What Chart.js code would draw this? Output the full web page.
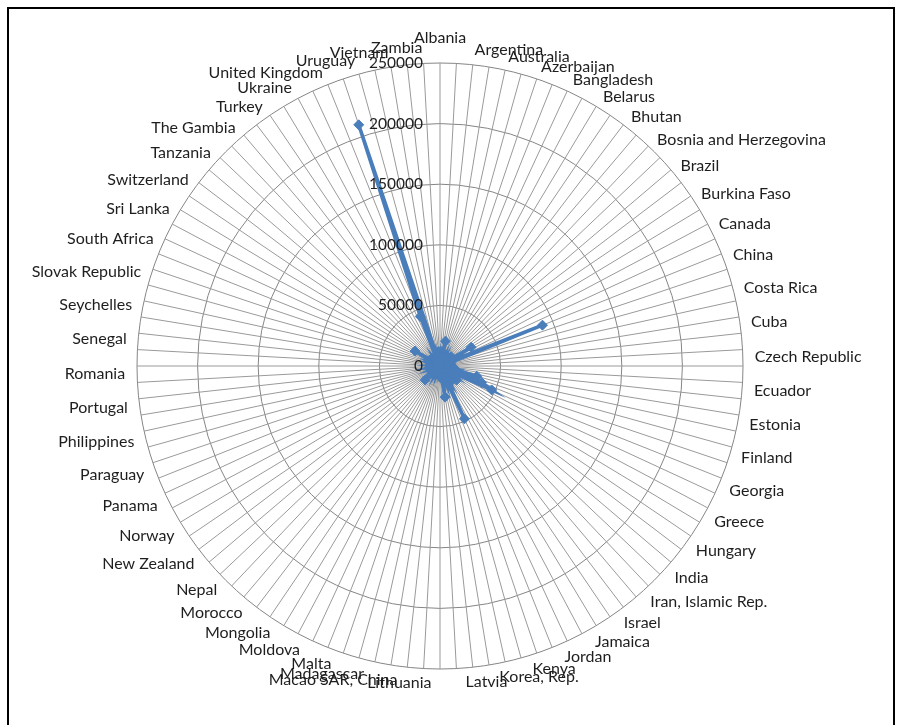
<!DOCTYPE html>
<html>
<head>
<meta charset="utf-8">
<script src="https://cdn.jsdelivr.net/npm/chart.js@4.4.0/dist/chart.umd.min.js"></script>
<style>
  html, body { margin: 0; padding: 0; background: #fff; overflow: hidden; width: 902px; height: 725px; }
  #frame { position: absolute; left: 7px; top: 7px; width: 888px; height: 740px; border: 2px solid #000; box-sizing: border-box; }
  #radar { position: absolute; left: 0; top: 0; }
</style>
</head>
<body>
<div id="frame"></div>
<canvas id="radar" width="900" height="732"></canvas>
<script>
// one name per pair of spokes, the second spoke of each pair has no label
const countries = [
  "Albania", "Argentina", "Australia", "Azerbaijan", "Bangladesh", "Belarus", "Bhutan",
  "Bosnia and Herzegovina", "Brazil", "Burkina Faso", "Canada", "China", "Costa Rica", "Cuba",
  "Czech Republic", "Ecuador", "Estonia", "Finland", "Georgia", "Greece", "Hungary", "India",
  "Iran, Islamic Rep.", "Israel", "Jamaica", "Jordan", "Kenya", "Korea, Rep.", "Latvia",
  "Lithuania", "Macao SAR, China", "Madagascar", "Malta", "Moldova", "Mongolia", "Morocco",
  "Nepal", "New Zealand", "Norway", "Panama", "Paraguay", "Philippines", "Portugal", "Romania",
  "Senegal", "Seychelles", "Slovak Republic", "South Africa", "Sri Lanka", "Switzerland",
  "Tanzania", "The Gambia", "Turkey", "Ukraine", "United Kingdom", "Uruguay", "Vietnam", "Zambia"
];

const tickValues = [0, 50000, 100000, 150000, 200000, 250000];

const values = [
  8000, 5000, 12000, 6000, 21000, 6000, 9000, 4000, 7000, 5000,
  8000, 6000, 10000, 5000, 7000, 6000, 12000, 8000, 9000, 30000,
  10000, 7000, 91000, 9000, 8000, 6000, 9000, 5000, 7000, 6000,
  9000, 8000, 12000, 9000, 31500, 14000, 37000, 47000, 12000, 10000,
  14000, 9000, 18000, 10000, 12000, 9000, 15000, 10000, 16000, 12000,
  48000, 10000, 14000, 8000, 12000, 26000, 9000, 7000, 8000, 6000,
  7000, 5000, 6000, 5000, 7000, 5000, 6000, 8000, 5000, 7000,
  6000, 9000, 8000, 17000, 7000, 6000, 8000, 5000, 7000, 6000,
  8000, 5000, 7000, 6000, 9000, 6000, 7000, 5000, 8000, 6000,
  7000, 5000, 8000, 6000, 9000, 7000, 10000, 24000, 8000, 6000,
  9000, 5000, 7000, 6000, 8000, 5000, 7000, 6000, 9000, 44000,
  210000, 6000, 8000, 5000, 12000, 6000
];

const labels = countries.flatMap(c => [c, '']);

const blue = '#4a7ebb';
const textColor = '#1e1e1e';

// axis values sit left of the vertical spoke, drawn over the series
const tickLabels = {
  id: 'tickLabels',
  afterDatasetsDraw(chart) {
    const r = chart.scales.r;
    const ctx = chart.ctx;
    ctx.save();
    ctx.font = '15.5px Lato';
    ctx.fillStyle = textColor;
    ctx.textAlign = 'right';
    ctx.textBaseline = 'middle';
    tickValues.forEach(v => {
      ctx.fillText(String(v), r.xCenter - 17, r.yCenter - r.getDistanceFromCenterForValue(v));
    });
    ctx.restore();
  }
};

// category names go half a spoke clockwise, because only every second one is shown
const categoryLabels = {
  id: 'categoryLabels',
  afterDraw(chart) {
    const r = chart.scales.r;
    const ctx = chart.ctx;
    ctx.save();
    ctx.font = '16px Lato';
    ctx.fillStyle = textColor;
    ctx.textBaseline = 'middle';
    chart.data.labels.forEach((text, i) => {
      if (!text) return;
      const p = r.getPointPosition(i + 0.5, r.drawingArea + 12);
      const s = Math.sin(p.angle + Math.PI / 2);
      const c = Math.cos(p.angle + Math.PI / 2);
      let x = p.x;
      let y = p.y - 1 - 3 * c;
      if (Math.abs(s) < 0.03 && c > 0) {
        // the top name stays centred over its own spoke
        ctx.textAlign = 'center';
        x = r.getPointPosition(i, r.drawingArea).x;
        y -= 9;
      } else {
        ctx.textAlign = s > 0 ? 'left' : 'right';
        if (c > 0) x -= Math.sign(s) * 8 * c;
      }
      ctx.fillText(text, x, y);
    });
    ctx.restore();
  }
};

new Chart(document.getElementById('radar').getContext('2d'), {
  type: 'radar',
  data: {
    labels,
    datasets: [{
      data: values,
      borderColor: blue,
      backgroundColor: blue,
      borderWidth: 3.5,
      fill: false,
      tension: 0,
      pointStyle: 'rectRot',
      pointRadius: 5,
      pointBackgroundColor: blue,
      pointBorderColor: blue,
      pointBorderWidth: 1
    }]
  },
  options: {
    responsive: false,
    animation: false,
    layout: { padding: { left: 0, right: 20, top: 63, bottom: 63 } },
    plugins: {
      legend: { display: false },
      tooltip: { enabled: false }
    },
    scales: {
      r: {
        min: 0,
        max: 250000,
        ticks: { display: false, stepSize: 50000 },
        grid: { circular: true, color: '#858585', lineWidth: 1 },
        angleLines: { color: '#9a9a9a', lineWidth: 1 },
        pointLabels: { display: false }
      }
    }
  },
  plugins: [tickLabels, categoryLabels]
});
</script>
</body>
</html>
